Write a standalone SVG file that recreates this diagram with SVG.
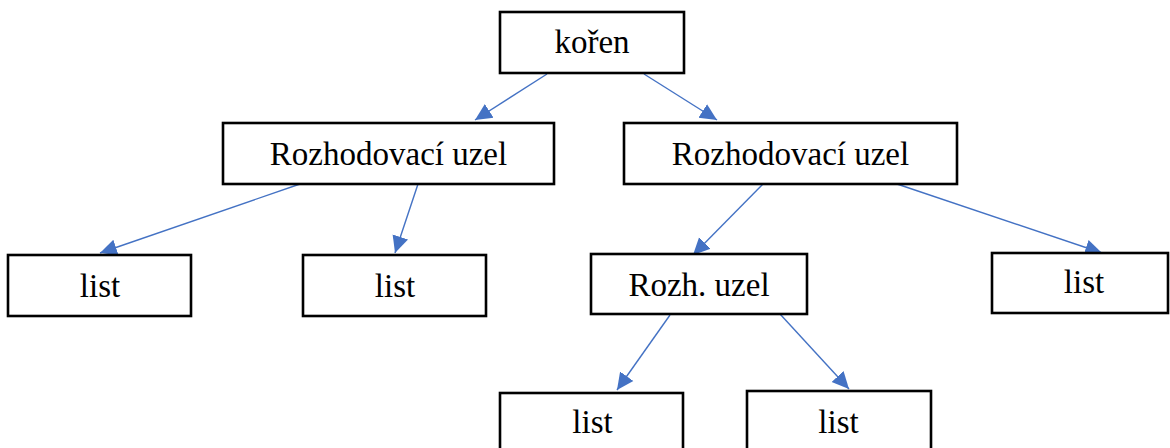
<svg xmlns="http://www.w3.org/2000/svg" width="1170" height="448" viewBox="0 0 1170 448">
  <style>
    .box { fill: #ffffff; stroke: #000000; stroke-width: 2.6; }
    .lbl { font-family: "Liberation Serif", "DejaVu Serif", serif; font-size: 33px; fill: #000000; text-anchor: middle; }
    .edge { stroke: #4472C4; stroke-width: 1.4; fill: none; marker-end: url(#arrow); }
  </style>
  <defs>
    <marker id="arrow" markerUnits="userSpaceOnUse" markerWidth="18" markerHeight="18" viewBox="0 0 16 16" refX="15" refY="8" orient="auto">
      <path d="M0,0.8 L15,8 L0,15.2 Z" fill="#4472C4"/>
    </marker>
  </defs>
  <rect width="1170" height="448" fill="#ffffff"/>

  <g id="connectors">
    <line class="edge" x1="547" y1="74" x2="475" y2="120"/>
    <line class="edge" x1="644" y1="74" x2="717" y2="120"/>
    <line class="edge" x1="300" y1="184" x2="100" y2="253"/>
    <line class="edge" x1="418" y1="184" x2="395" y2="253"/>
    <line class="edge" x1="763" y1="184" x2="693" y2="255"/>
    <line class="edge" x1="897" y1="184" x2="1102" y2="253"/>
    <line class="edge" x1="670" y1="315" x2="617" y2="390"/>
    <line class="edge" x1="780" y1="314" x2="849" y2="389"/>
  </g>

  <g id="root">
    <rect class="box" x="500" y="12" width="184" height="61"/>
    <text class="lbl" x="592" y="53">kořen</text>
  </g>
  <g id="decision-left">
    <rect class="box" x="223" y="123" width="331" height="61"/>
    <text class="lbl" x="388.5" y="165">Rozhodovací uzel</text>
  </g>
  <g id="decision-right">
    <rect class="box" x="624" y="123" width="333" height="61"/>
    <text class="lbl" x="790.5" y="165">Rozhodovací uzel</text>
  </g>
  <g id="leaf-1">
    <rect class="box" x="8" y="255" width="183" height="61"/>
    <text class="lbl" x="100" y="297">list</text>
  </g>
  <g id="leaf-2">
    <rect class="box" x="303" y="255" width="183" height="61"/>
    <text class="lbl" x="395" y="297">list</text>
  </g>
  <g id="decision-small">
    <rect class="box" x="591" y="254" width="216" height="60"/>
    <text class="lbl" x="699" y="296">Rozh. uzel</text>
  </g>
  <g id="leaf-3">
    <rect class="box" x="992" y="253" width="176" height="60"/>
    <text class="lbl" x="1084" y="293">list</text>
  </g>
  <g id="leaf-4">
    <rect class="box" x="500" y="393" width="183" height="61"/>
    <text class="lbl" x="592.5" y="433">list</text>
  </g>
  <g id="leaf-5">
    <rect class="box" x="747" y="391" width="184" height="61"/>
    <text class="lbl" x="838.5" y="433">list</text>
  </g>
</svg>
